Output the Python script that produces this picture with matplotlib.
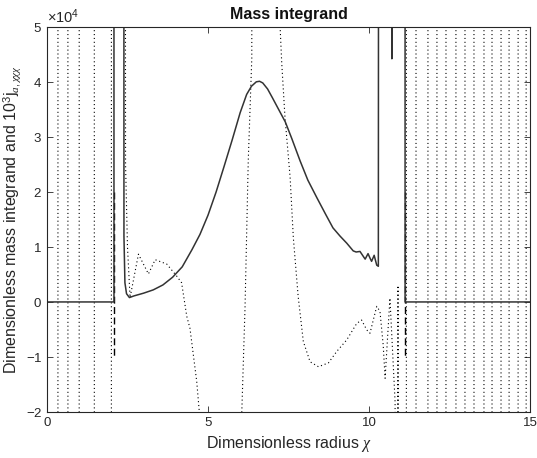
import numpy as np
import matplotlib
matplotlib.use('Agg')
import matplotlib.pyplot as plt

plt.rcParams['font.family'] = ['Liberation Sans', 'DejaVu Sans']
plt.rcParams['mathtext.fontset'] = 'custom'
plt.rcParams['mathtext.rm'] = 'Liberation Sans'
plt.rcParams['mathtext.it'] = 'Liberation Serif:italic'

# mass integrand (units of 1e4), values above 5 are off the top of the axes
mass_x = [0.0, 2.08, 2.08, 2.37, 2.39, 2.42, 2.47, 2.56, 2.70, 3.00, 3.30, 3.60,
          3.90, 4.20, 4.50, 4.75, 5.00, 5.25, 5.50, 5.75, 6.00, 6.20, 6.35, 6.50,
          6.60, 6.70, 6.85, 7.00, 7.20, 7.40, 7.60, 7.86, 8.10, 8.38, 8.65, 8.88,
          9.10, 9.31, 9.51, 9.60, 9.72, 9.80, 9.88, 9.97, 10.03, 10.08, 10.16,
          10.24, 10.29, 10.34, 10.68, 10.71, 10.74, 11.12, 11.12, 15.0]
mass_y = [0.0, 0.0, 60.0, 60.0, 1.2, 0.35, 0.15, 0.08, 0.11, 0.16, 0.22, 0.31,
          0.45, 0.64, 0.95, 1.23, 1.58, 2.00, 2.47, 2.95, 3.45, 3.78, 3.93, 4.01,
          4.02, 3.99, 3.88, 3.72, 3.50, 3.28, 2.98, 2.57, 2.22, 1.90, 1.60, 1.35,
          1.20, 1.07, 0.93, 0.91, 0.92, 0.85, 0.78, 0.88, 0.80, 0.74, 0.85,
          0.67, 0.65, 60.0, 60.0, 4.43, 60.0, 60.0, 0.0, 0.0]

# 10^3 j_a,xxx : steep sign changes left and right, smooth part in between
j_cross_left = [0.34, 0.65, 1.00, 1.47, 2.00]
j_mid_x = [2.37, 2.44, 2.50, 2.58, 2.84, 3.15, 3.36, 3.72, 4.03, 4.18, 4.34,
           4.44, 4.65, 4.73, 4.85, 5.90, 6.05, 6.15, 6.25, 6.36, 6.42, 7.20,
           7.24, 7.29, 7.39, 7.55, 7.65, 7.80, 7.96, 8.17, 8.43, 8.74, 9.00,
           9.31, 9.62, 9.77, 9.93, 10.03, 10.24, 10.34, 10.44, 10.50, 10.65,
           10.81, 10.86, 10.90, 10.94, 11.00]
j_mid_y = [60.0, 2.5, 1.0, 0.08, 0.87, 0.51, 0.77, 0.69, 0.47, 0.35, -0.26,
           -0.48, -1.45, -2.0, -60.0, -60.0, -2.0, -0.1, 2.57, 4.44, 60.0, 60.0,
           5.0, 4.35, 3.37, 2.27, 1.17, 0.10, -0.72, -1.09, -1.18, -1.11, -0.90,
           -0.69, -0.39, -0.33, -0.51, -0.57, -0.08, -0.17, -0.78, -1.39, 0.07,
           -1.82, -60.0, 0.30, -60.0, -60.0]
j_cross_right = [11.16, 11.46, 11.83, 12.11, 12.39, 12.70, 12.98, 13.26,
                 13.57, 13.82, 14.10, 14.35, 14.63, 14.88]

# dashed boundary markers
dash_x = [2.08, 2.08, np.nan, 11.12, 11.12]
dash_y = [2.0, -1.0, np.nan, 2.0, -1.03]

BIG = 60.0


def crossings(xs, start_sign, w=0.006):
    px, py = [], []
    s = start_sign
    for c in xs:
        px += [c - w, c + w]
        py += [-s * BIG, s * BIG]
        s = -s
    return px, py


lx, ly = crossings(j_cross_left, 1)
rx, ry = crossings(j_cross_right, 1)
j_x = [0.0] + lx + j_mid_x + rx + [15.0]
j_y = [-BIG] + ly + j_mid_y + ry + [ry[-1]]

fig, ax = plt.subplots(figsize=(5.37, 4.58), dpi=100)
plt.subplots_adjust(left=0.0875, right=0.987, bottom=0.101, top=0.94)

ax.plot(j_x, np.array(j_y) * 1e4, c='k', lw=0.8, ls=(0, (1, 2.5)))
ax.plot(dash_x, np.array(dash_y) * 1e4, c='k', lw=1.0, ls=(0, (5, 2.5)))
ax.plot(mass_x, np.array(mass_y) * 1e4, c='#333333', lw=1.1)

ax.set_xlim(0, 15)
ax.set_ylim(-2e4, 5e4)
ax.set_xticks([0, 5, 10, 15])
ax.set_yticks(np.arange(-2, 6) * 1e4)
ax.ticklabel_format(axis='y', style='sci', scilimits=(0, 0), useMathText=True)
ax.yaxis.get_offset_text().set_fontsize(10.5)
ax.yaxis.get_offset_text().set_color('#262626')
ax.tick_params(direction='in', top=True, right=True, length=4, width=0.6,
               labelsize=9.5, colors='#262626')
for sp in ax.spines.values():
    sp.set_color('#262626')
    sp.set_linewidth(0.8)

ax.set_title('Mass integrand', fontsize=11.5, fontweight='bold', color='#111111')
ax.set_xlabel(r'Dimensionless radius $\chi$', fontsize=11.5, color='#262626')
ax.set_ylabel(r'Dimensionless mass integrand and 10$^3$j$_{a,\chi\chi\chi}$',
              fontsize=11.5, color='#262626', labelpad=2)

fig.savefig('out.png', dpi=100)
